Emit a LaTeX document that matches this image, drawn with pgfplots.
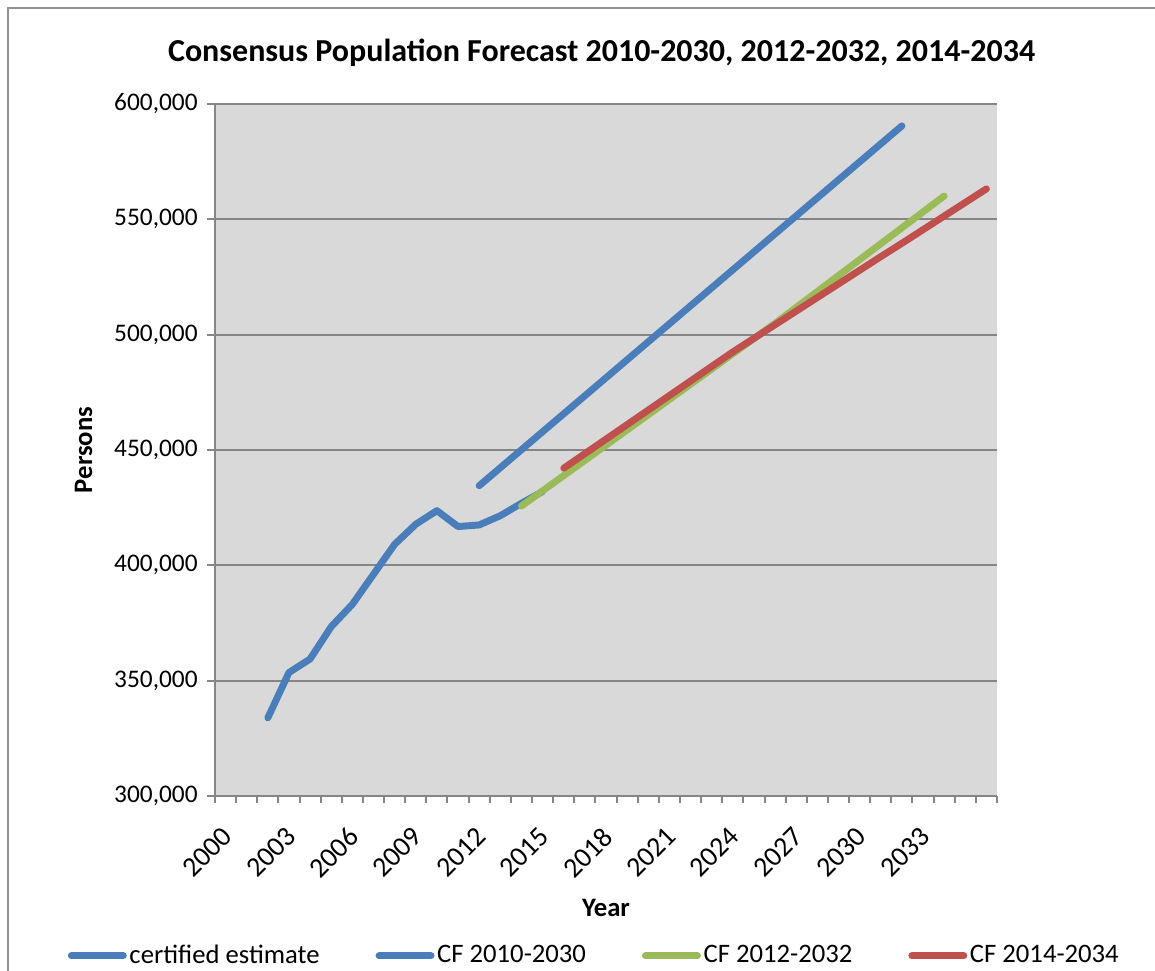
\documentclass[border=0pt]{standalone}
\usepackage{fontspec}
\setmainfont{Carlito}
\usepackage{pgfplots}
\pgfplotsset{compat=1.18}
\definecolor{ceblue}{HTML}{4A7EBB}
\definecolor{cfgreen}{HTML}{9BBB59}
\definecolor{cfred}{HTML}{C0504D}
\definecolor{plotbg}{HTML}{D9D9D9}
\definecolor{gridgray}{HTML}{868686}

\begin{document}
\begin{tikzpicture}
\useasboundingbox (0,0) rectangle (433.125pt,364.125pt);
\draw[gridgray!90, line width=0.75pt] (3pt,0) -- (3pt,361.125pt) -- (433.125pt,361.125pt);
\node[font=\fontsize{12}{14}\selectfont\bfseries, anchor=base] at (225.6pt,341.2pt)
  {Consensus Population Forecast 2010-2030, 2012-2032, 2014-2034};
\begin{axis}[
  at={(80.625pt,65.625pt)}, anchor=south west,
  scale only axis, width=293.25pt, height=259.5pt,
  xmin=1999.5, xmax=2036.5, ymin=300000, ymax=600000,
  axis x line*=bottom, axis y line*=left,
  axis line style={gridgray, line width=0.75pt, -},
  axis background/.style={fill=plotbg},
  ytick={300000,350000,...,600000},
  ymajorgrids, grid style={gridgray, line width=0.75pt},
  scaled y ticks=false,
  /pgf/number format/assume math mode=true,
  tick align=outside,
  major tick length=3pt,
  minor tick length=2.6pt,
  tick style={gridgray, line width=0.75pt},
  xtick={2000,2003,...,2033},
  major x tick style={draw=none},
  minor xtick={1999.5,2000.5,...,2036.5},
  ticklabel style={font=\fontsize{9.5}{11}\selectfont},
  xticklabel style={font=\fontsize{10.5}{12}\selectfont, /pgf/number format/1000 sep={}, rotate=45, anchor=east, yshift=-8pt, xshift=-3.5pt},
  yticklabel style={/pgf/number format/.cd, fixed, 1000 sep={,}},
  xlabel={Year},
  xlabel style={at={(axis description cs:0.5,-0.162)}, anchor=center, font=\bfseries\fontsize{10}{12}\selectfont},
  ylabel={Persons},
  ylabel style={at={(axis description cs:-0.168,0.5)}, anchor=center, font=\bfseries\fontsize{10}{12}\selectfont},
  every axis plot/.append style={line width=2.6pt, line cap=round, line join=round},
  legend style={at={(axis description cs:0.4855,-0.231)}, anchor=center, draw=none, fill=none,
    legend columns=4, font=\fontsize{10}{12}\selectfont, inner sep=0pt,
    nodes={inner sep=1pt},
    /tikz/every even column/.append style={column sep=20pt}},
  legend image code/.code={\draw[#1] (0pt,0pt) -- (19.5pt,0pt);},
]
% certified estimate
\addplot[ceblue] coordinates {
 (2002,333900) (2003,353500) (2004,359400) (2005,373400) (2006,383100)
 (2007,396100) (2008,409100) (2009,417800) (2010,423700) (2011,416800)
 (2012,417500) (2013,421500) (2014,426900) (2015,432000)
};
\addlegendentry{certified estimate}
% CF 2010-2030
\addplot[ceblue] coordinates {
 (2012,434500) (2013,442300) (2014,450100) (2015,457900) (2016,465700)
 (2017,473500) (2018,481300) (2019,489100) (2020,496900) (2021,504700)
 (2022,512500) (2023,520300) (2024,528100) (2025,535900) (2026,543700)
 (2027,551500) (2028,559300) (2029,567100) (2030,574900) (2031,582700)
 (2032,590500)
};
\addlegendentry{CF 2010-2030}
% CF 2012-2032
\addplot[cfgreen] coordinates {
 (2014,425700) (2015,432300) (2016,438900) (2017,445500) (2018,452100)
 (2019,458700) (2020,465300) (2021,471900) (2022,478500) (2023,485100)
 (2024,491700) (2025,498300) (2026,504900) (2027,511800) (2028,518700)
 (2029,525600) (2030,532500) (2031,539400) (2032,546300) (2033,553200)
 (2034,560100)
};
\addlegendentry{CF 2012-2032}
% CF 2014-2034
\addplot[cfred] coordinates {
 (2016,442100) (2017,448400) (2018,454700) (2019,461000) (2020,467300)
 (2021,473600) (2022,479900) (2023,486200) (2024,492500) (2025,498400)
 (2026,504300) (2027,510200) (2028,516100) (2029,522000) (2030,527900)
 (2031,533800) (2032,539600) (2033,545500) (2034,551400) (2035,557300)
 (2036,563200)
};
\addlegendentry{CF 2014-2034}
\end{axis}
\end{tikzpicture}
\end{document}
